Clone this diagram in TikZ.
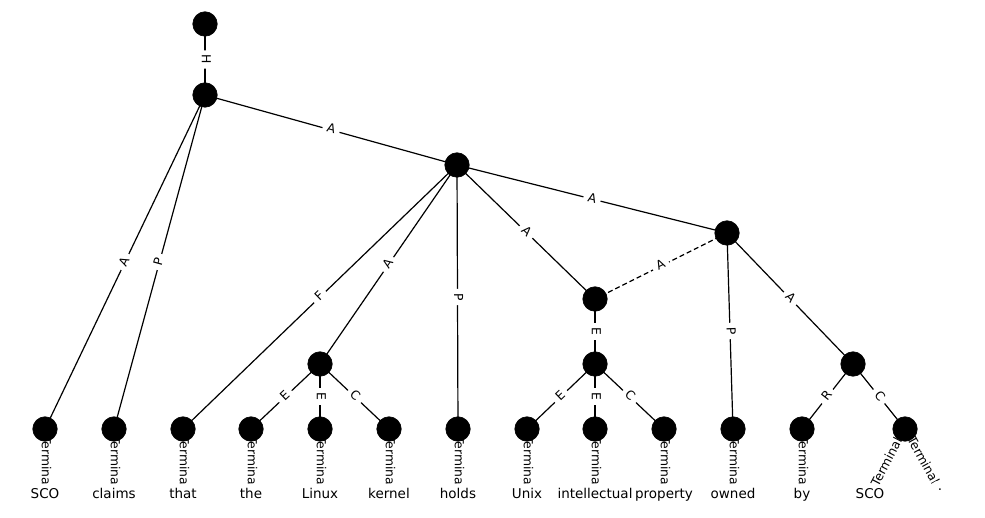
\documentclass[tikz,border=0pt]{standalone}
\usepackage{fontspec}
\setmainfont{DejaVu Sans}
\pgfdeclarelayer{edges}
\pgfdeclarelayer{labels}
\pgfsetlayers{edges,labels,main}
\begin{document}
\begin{tikzpicture}[x=1pt,y=-1pt,
  v/.style={circle,fill=black,draw=black,line width=0.6pt,minimum size=24.5pt,inner sep=0pt},
  w/.style={circle,fill=white,minimum size=25pt,inner sep=0pt},
  wordtext/.style={font=\fontsize{13.5}{16}\selectfont,text height=10.3pt,text depth=3.2pt,inner sep=0pt,yshift=1.5pt},
  e/.style={line width=1.2pt,black},
  lab/.style={font=\fontsize{12.4}{14}\selectfont,fill=white,inner xsep=4.5pt,inner ysep=2.5pt,
    rounded corners=3pt,sloped,pos=0.5,text height=9pt,text depth=2.5pt}
]
\useasboundingbox (0,0) rectangle (985,518);
% structural nodes
\node[v] (r)  at (205,24) {};
\node[v] (n1) at (205,95) {};
\node[v] (n2) at (457,165) {};
\node[v] (n3) at (727,233) {};
\node[v] (n4) at (595,299) {};
\node[v] (n5) at (320,364) {};
\node[v] (n6) at (595,364) {};
\node[v] (n7) at (853,364) {};
% terminal nodes
\foreach \i/\x in {1/45,2/114,3/183,4/251,5/320,6/389,7/458,8/527,9/595,10/664,11/733,12/802,13/905}
  \node[v] (t\i) at (\x,429) {};
% words
\node[w,label={[wordtext]center:SCO}] (w1) at (45,496) {};
\node[w,label={[wordtext]center:claims}] (w2) at (114,496) {};
\node[w,label={[wordtext]center:that}] (w3) at (183,496) {};
\node[w,label={[wordtext]center:the}] (w4) at (251,496) {};
\node[w,label={[wordtext]center:Linux}] (w5) at (320,496) {};
\node[w,label={[wordtext]center:kernel}] (w6) at (389,496) {};
\node[w,label={[wordtext]center:holds}] (w7) at (458,496) {};
\node[w,label={[wordtext]center:Unix}] (w8) at (527,496) {};
\node[w,label={[wordtext]center:intellectual}] (w9) at (595,496) {};
\node[w,label={[wordtext]center:property}] (w10) at (664,496) {};
\node[w,label={[wordtext]center:owned}] (w11) at (733,496) {};
\node[w,label={[wordtext]center:by}] (w12) at (802,496) {};
\node[w,label={[wordtext]center:SCO}] (w13) at (870,496) {};
\node[w,label={[wordtext,yshift=5pt]center:.}] (w14) at (940,493) {};
% edges
\begin{pgfonlayer}{edges}
\foreach \a/\b in {r/n1,n1/n2,n1/t1,n1/t2,n2/n3,n2/t3,n2/n5,n2/t7,n2/n4,n4/n6,n6/t8,n6/t9,n6/t10,
  n5/t4,n5/t5,n5/t6,n3/t11,n3/n7,n7/t12,n7/t13,t1/w1,t2/w2,t3/w3,t4/w4,t5/w5,t6/w6,t7/w7,
  t8/w8,t9/w9,t10/w10,t11/w11,t12/w12,t13/w13,t13/w14}
  \draw[e] (\a.center) -- (\b.center);
\draw[e,dash pattern=on 5pt off 3pt] (n3.center) -- (n4.center);
\end{pgfonlayer}
\begin{pgfonlayer}{labels}
\foreach \a/\b/\l in {r/n1/H,n1/n2/A,n1/t1/A,n1/t2/P,n2/n3/A,n2/t3/F,n2/n5/A,n2/t7/P,n2/n4/A,
  n3/n4/A,n4/n6/E,n6/t8/E,n6/t9/E,n6/t10/C,n5/t4/E,n5/t5/E,n5/t6/C,n3/t11/P,n3/n7/A,n7/t12/R,n7/t13/C,
  t1/w1/Terminal,t2/w2/Terminal,t3/w3/Terminal,t4/w4/Terminal,t5/w5/Terminal,t6/w6/Terminal,
  t7/w7/Terminal,t8/w8/Terminal,t9/w9/Terminal,t10/w10/Terminal,t11/w11/Terminal,t12/w12/Terminal,
  t13/w13/Terminal,t13/w14/Terminal}
  \path (\a.center) -- (\b.center) node[lab] {\l};
\end{pgfonlayer}
\end{tikzpicture}
\end{document}
